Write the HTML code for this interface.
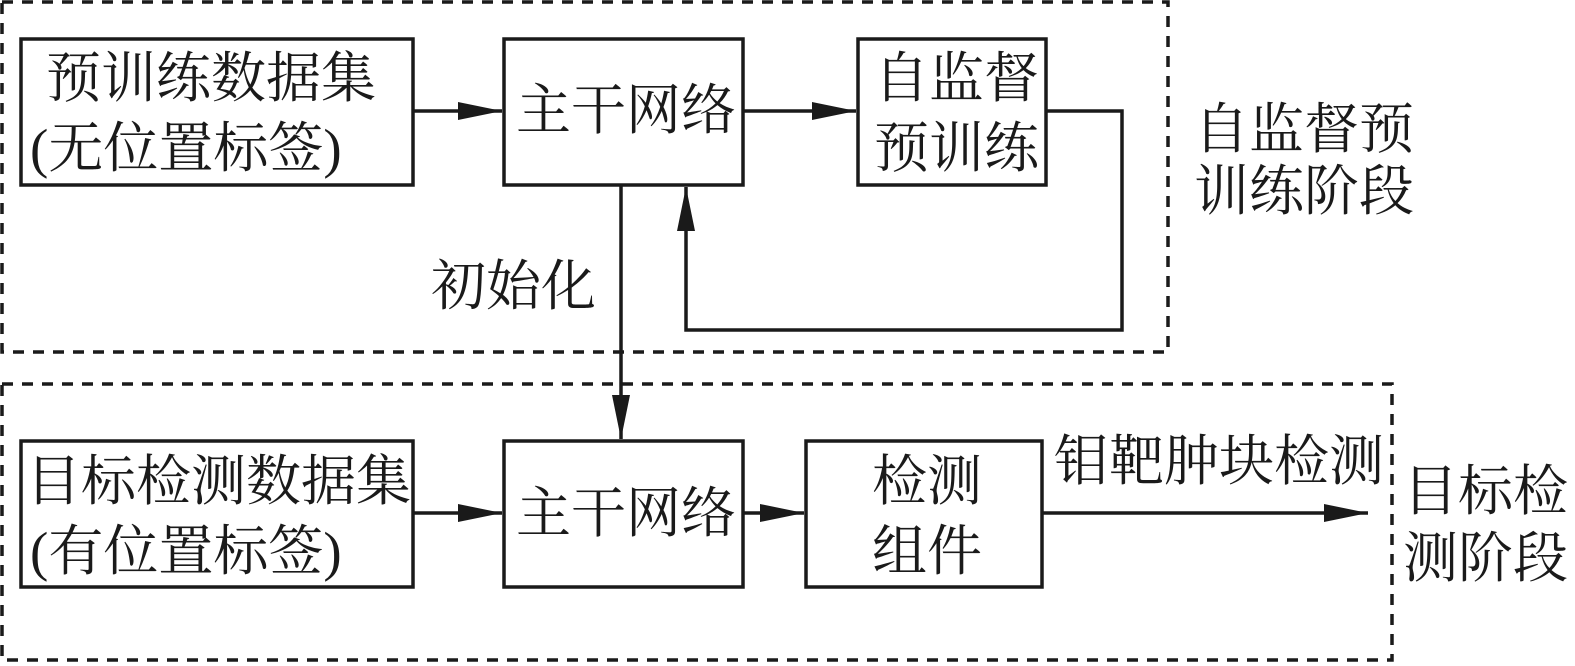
<!DOCTYPE html>
<html><head><meta charset="utf-8"><style>
html,body{margin:0;padding:0;background:#fff;}
svg{display:block}
text{font-family:"Liberation Serif","Noto Serif CJK SC",serif;font-size:55px;fill:#1a1a1a;}
</style></head><body>
<svg width="1575" height="666" viewBox="0 0 1575 666" xmlns="http://www.w3.org/2000/svg">
<defs>
<marker id="a" markerWidth="44" markerHeight="18" refX="44" refY="9" orient="auto" markerUnits="userSpaceOnUse">
<path d="M0,0 L44,9 L0,18 Z" fill="#1a1a1a"/>
</marker>
</defs>
<g fill="none" stroke="#1a1a1a" stroke-width="3.5">
<rect x="2" y="2" width="1166" height="350" stroke-dasharray="11,9"/>
<rect x="2" y="384" width="1390" height="276" stroke-dasharray="11,9"/>
<rect x="21" y="39" width="392" height="146"/>
<rect x="504" y="39" width="239" height="146"/>
<rect x="858" y="39" width="188" height="146"/>
<rect x="21" y="441" width="392" height="146"/>
<rect x="504" y="441" width="239" height="146"/>
<rect x="806" y="441" width="236" height="146"/>
<line x1="413" y1="111" x2="502" y2="111" marker-end="url(#a)"/>
<line x1="743" y1="111" x2="856" y2="111" marker-end="url(#a)"/>
<polyline points="1046,111 1122,111 1122,330 686,330 686,187" marker-end="url(#a)"/>
<line x1="621" y1="185" x2="621" y2="439" marker-end="url(#a)"/>
<line x1="413" y1="513" x2="502" y2="513" marker-end="url(#a)"/>
<line x1="743" y1="513" x2="804" y2="513" marker-end="url(#a)"/>
<line x1="1042" y1="513" x2="1368" y2="513" marker-end="url(#a)"/>
</g>
<text x="46" y="97">预训练数据集</text>
<text x="30" y="167">(无位置标签)</text>
<text x="516" y="129">主干网络</text>
<text x="874" y="97">自监督</text>
<text x="874" y="167">预训练</text>
<text x="431" y="305">初始化</text>
<text x="1194" y="148">自监督预</text>
<text x="1194" y="210">训练阶段</text>
<text x="26" y="500">目标检测数据集</text>
<text x="30" y="570">(有位置标签)</text>
<text x="516" y="532">主干网络</text>
<text x="872" y="500">检测</text>
<text x="872" y="570">组件</text>
<text x="1054" y="480">钼靶肿块检测</text>
<text x="1403" y="510">目标检</text>
<text x="1403" y="577">测阶段</text>
</svg>
</body></html>
